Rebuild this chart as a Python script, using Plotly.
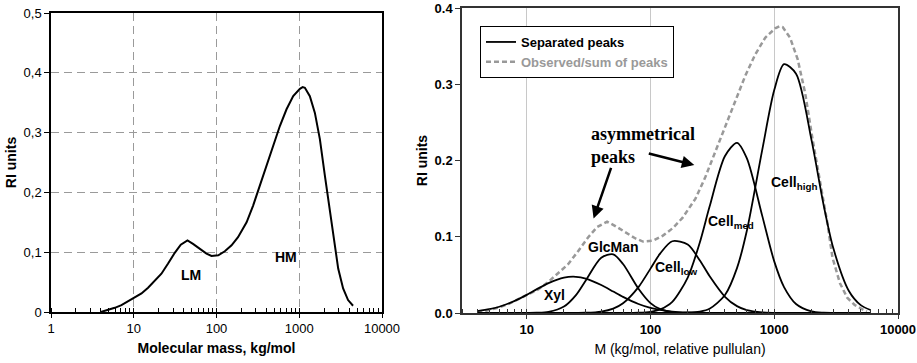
import numpy as np
import plotly.graph_objects as go

# Observed RI trace: molecular mass (kg/mol) and detector response (RI units)
obs_mass = [4.0, 4.5, 4.9, 5.9, 7.1, 8.5, 10, 12.4, 14.9, 17.9, 21.6, 26, 31.3, 37,
            44.6, 52, 62.8, 75.7, 87, 105, 126, 152, 182, 215, 231, 277, 334, 403,
            484, 583, 702, 845, 1018, 1100, 1170, 1343, 1545, 1775, 2040, 2345, 2695,
            2955, 3390, 3890, 4470]
obs_ri = [0.0, 0.002, 0.003, 0.007, 0.0116, 0.018, 0.023, 0.031, 0.0405, 0.0516, 0.064,
          0.081, 0.099, 0.1126, 0.1198, 0.114, 0.106, 0.0977, 0.0937, 0.0948, 0.1015,
          0.1115, 0.125, 0.142, 0.150, 0.178, 0.211, 0.2446, 0.278, 0.311, 0.339, 0.361,
          0.3733, 0.376, 0.375, 0.361, 0.333, 0.289, 0.228, 0.1725, 0.117, 0.0727,
          0.0394, 0.020, 0.0105]
# on the pullulan-relative scale the observed trace runs a little further out
obs_tail_mass = [5000, 5600]
obs_tail_ri = [0.006, 0.002]

# Separated peaks on a common mass grid (kg/mol, relative pullulan)
peak_mass = [4, 5, 6, 8, 10, 12, 15, 20, 25, 30, 40, 50, 60, 80, 100, 120, 150, 200,
             250, 300, 400, 500, 600, 800, 1000, 1200, 1500, 2000, 2500, 3000, 4000,
             5000, 6000]
xyl = [0.0025, 0.0050, 0.0082, 0.0159, 0.0238, 0.0310, 0.0392, 0.0464, 0.0475, 0.0451,
       0.0367, 0.0281, 0.0211, 0.0118, 0.0067, 0.0040, 0.0019, 0.0007, 0.0003, 0.0001,
       0, 0, 0, 0, 0, 0, 0, 0, 0, 0, 0, 0, 0]
glcman = [0, 0, 0, 0, 0.0001, 0.0003, 0.0015, 0.0085, 0.0235, 0.0427, 0.0725, 0.0769,
          0.0642, 0.0319, 0.0130, 0.0050, 0.0012, 0.0001,
          0, 0, 0, 0, 0, 0, 0, 0, 0, 0, 0, 0, 0, 0, 0]
cell_low = [0, 0, 0, 0, 0, 0, 0, 0, 0.0001, 0.0003, 0.0019, 0.0058, 0.0128, 0.0340,
            0.0582, 0.0782, 0.0941, 0.0897, 0.0692, 0.0485, 0.0213, 0.0090, 0.0038,
            0.0008, 0.0002, 0, 0, 0, 0, 0, 0, 0, 0]
cell_med = [0, 0, 0, 0, 0, 0, 0, 0, 0, 0, 0, 0, 0, 0.0004, 0.0016, 0.0047, 0.0145,
            0.0465, 0.0921, 0.1392, 0.2059, 0.2232, 0.2031, 0.1274, 0.0677, 0.0340,
            0.0118, 0.0021, 0.0004, 0.0001, 0, 0, 0]
cell_high = [0, 0, 0, 0, 0, 0, 0, 0, 0, 0, 0, 0, 0, 0, 0, 0, 0.0, 0.0004, 0.0018,
             0.0055, 0.0236, 0.0589, 0.1076, 0.2140, 0.2923, 0.3263, 0.3139, 0.2270,
             0.1425, 0.0851, 0.0292, 0.0103, 0.0039]

peaks = [xyl, glcman, cell_low, cell_med, cell_high]

left_yticks = [0, 0.1, 0.2, 0.3, 0.4, 0.5]
left_yticktext = ["0", "0,1", "0,2", "0,3", "0,4", "0,5"]
right_yticks = [0, 0.1, 0.2, 0.3, 0.4]
mass_ticks = [1, 10, 100, 1000, 10000]

SANS = "Liberation Sans, Arial, sans-serif"
SERIF = "Liberation Serif, Times New Roman, serif"

fig = go.Figure()

# left panel: raw distribution
fig.add_trace(go.Scatter(x=obs_mass, y=obs_ri, mode="lines",
                         line=dict(color="black", width=2),
                         showlegend=False, xaxis="x", yaxis="y"))

# right panel: observed trace (dashed) and separated peaks
fig.add_trace(go.Scatter(x=obs_mass + obs_tail_mass, y=obs_ri + obs_tail_ri,
                         mode="lines",
                         name="<b><span style='color:#999999'>Observed/sum of peaks</span></b>",
                         line=dict(color="#999999", width=2.5, dash="5px,3px"),
                         xaxis="x2", yaxis="y2", legendrank=2))
for i, p in enumerate(peaks):
    fig.add_trace(go.Scatter(x=peak_mass, y=p, mode="lines",
                             name="<b>Separated peaks</b>",
                             line=dict(color="black", width=1.8, shape="spline",
                                       smoothing=0.8),
                             showlegend=(i == 0), legendrank=1,
                             xaxis="x2", yaxis="y2"))

W, H = 917, 363


def px_x(a, b):
    return [a / W, b / W]


def px_y(top, bottom):
    return [(H - bottom) / H, (H - top) / H]


tick_font = dict(family=SANS, size=13, color="black")

fig.update_layout(
    width=W, height=H,
    margin=dict(l=0, r=0, t=0, b=0),
    paper_bgcolor="white", plot_bgcolor="white",
    font=dict(family=SANS, color="black"),
    xaxis=dict(domain=px_x(51, 382), type="log", range=[0, 4],
               tickvals=mass_ticks, ticktext=[str(v) for v in mass_ticks],
               ticks="outside", ticklen=4, tickcolor="black",
               tickfont=tick_font,
               minor=dict(ticks="inside", ticklen=4, tickcolor="black",
                          dtick="D1", showgrid=False),
               showgrid=True, gridcolor="#9a9a9a", gridwidth=1, griddash="8px,5px",
               showline=True, linecolor="black", linewidth=1.5, mirror=True,
               zeroline=False, anchor="y", automargin=False,
               title=dict(text="<b>Molecular mass, kg/mol</b>",
                          font=dict(family=SANS, size=14), standoff=8)),
    yaxis=dict(domain=px_y(13, 312), range=[0, 0.5],
               tickvals=left_yticks, ticktext=left_yticktext,
               ticks="outside", ticklen=5, tickcolor="black",
               tickfont=tick_font,
               showgrid=True, gridcolor="#9a9a9a", gridwidth=1, griddash="8px,5px",
               showline=True, linecolor="black", linewidth=1.5, mirror=True,
               zeroline=False, anchor="x", automargin=False,
               title=dict(text="<b>RI units</b>",
                          font=dict(family=SANS, size=14), standoff=4)),
    xaxis2=dict(domain=px_x(462, 898), type="log", range=[np.log10(3.0), 4],
                tickvals=mass_ticks[1:], ticktext=[f"<b>{v}</b>" for v in mass_ticks[1:]],
                ticks="outside", ticklen=4, tickcolor="#333",
                tickfont=tick_font,
                minor=dict(ticks="inside", ticklen=4, tickcolor="#333",
                           dtick="D1", showgrid=False),
                showgrid=True, gridcolor="#c8c8c8", gridwidth=1,
                showline=True, linecolor="#333", linewidth=1.5, mirror=True,
                zeroline=False, anchor="y2", automargin=False,
                title=dict(text="M (kg/mol, relative pullulan)",
                           font=dict(family=SANS, size=14), standoff=8)),
    yaxis2=dict(domain=px_y(8, 313), range=[0, 0.4],
                tickvals=right_yticks,
                ticktext=[f"<b>{v:.1f}</b>" for v in right_yticks],
                ticks="outside", ticklen=5, tickcolor="#333",
                tickfont=tick_font, showgrid=False,
                showline=True, linecolor="#333", linewidth=1.5, mirror=True,
                zeroline=False, anchor="x2", automargin=False,
                title=dict(text="<b>RI units</b>",
                           font=dict(family=SANS, size=14), standoff=4)),
    legend=dict(x=480 / W, y=(H - 26) / H, xanchor="left", yanchor="top",
                bordercolor="black", borderwidth=1, bgcolor="white",
                font=dict(family=SANS, size=13, color="black"),
                tracegroupgap=0, itemwidth=30),
)

lab = dict(family=SANS, size=14, color="black")
annotations = [
    dict(x=np.log10(48.5), y=0.0616, xref="x", yref="y", text="<b>LM</b>"),
    dict(x=np.log10(689), y=0.0915, xref="x", yref="y", text="<b>HM</b>"),
    dict(x=np.log10(16.8), y=0.0236, xref="x2", yref="y2", text="<b>Xyl</b>"),
    dict(x=np.log10(50), y=0.0866, xref="x2", yref="y2", text="<b>GlcMan</b>"),
    dict(x=np.log10(161), y=0.059, xref="x2", yref="y2", text="<b>Cell<sub>low</sub></b>"),
    dict(x=np.log10(448), y=0.1197, xref="x2", yref="y2", text="<b>Cell<sub>med</sub></b>"),
    dict(x=np.log10(1450), y=0.1705, xref="x2", yref="y2", text="<b>Cell<sub>high</sub></b>"),
]
for a in annotations:
    a.update(showarrow=False, font=lab)

annotations.append(dict(x=np.log10(31.6), y=0.22, xref="x2", yref="y2",
                        xanchor="left", yanchor="middle", align="left",
                        text="<b>asymmetrical<br>peaks</b>", showarrow=False,
                        font=dict(family=SERIF, size=18, color="black")))
# arrows pointing at the two shoulders of the observed trace
annotations.append(dict(x=np.log10(34.7), y=0.124, xref="x2", yref="y2", text="",
                        showarrow=True, arrowhead=2, arrowsize=1, arrowwidth=2.5,
                        arrowcolor="black", ax=18, ay=-52))
annotations.append(dict(x=np.log10(226), y=0.194, xref="x2", yref="y2", text="",
                        showarrow=True, arrowhead=2, arrowsize=1, arrowwidth=2.5,
                        arrowcolor="black", ax=-47, ay=-12))
fig.update_layout(annotations=annotations)

fig.write_html("out.html")
